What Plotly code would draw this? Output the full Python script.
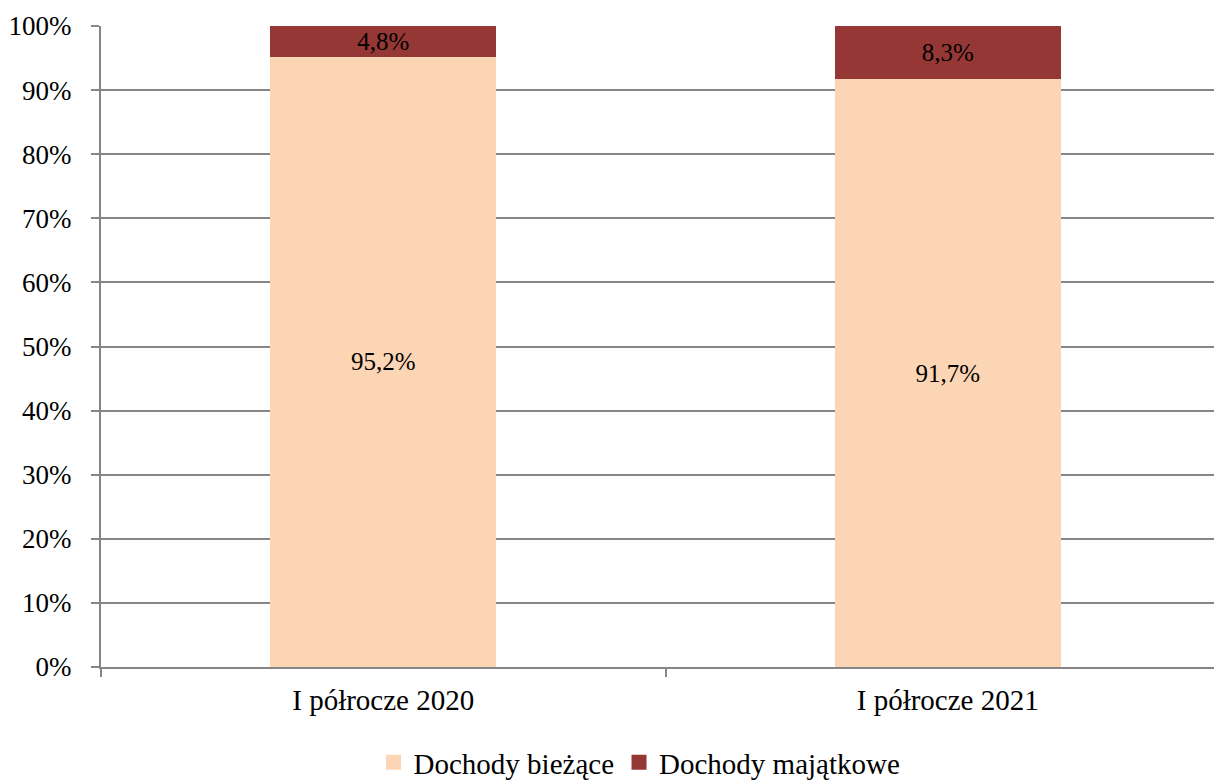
import plotly.graph_objects as go

categories = ["I półrocze 2020", "I półrocze 2021"]
biezace = [0.952, 0.917]
majatkowe = [0.048, 0.083]
series_names = ["Dochody bieżące", "Dochody majątkowe"]
colors = ["#FCD5B5", "#953735"]

FONT = "Liberation Serif"

fig = go.Figure()
for name, vals, col in zip(series_names, [biezace, majatkowe], colors):
    fig.add_trace(go.Bar(
        x=categories, y=vals, name=name, legendgroup=name, showlegend=False,
        marker=dict(color=col, line=dict(width=0)),
        texttemplate="%{y:.1%}", textposition="inside",
        insidetextanchor="middle",
        textfont=dict(family=FONT, size=25, color="black"),
        width=0.4,
    ))
# legend entries with square swatches
for name, col in zip(series_names, colors):
    fig.add_trace(go.Scatter(
        x=[None], y=[None], mode="markers", name=name, legendgroup=name,
        marker=dict(symbol="square", size=15, color=col),
        showlegend=True, hoverinfo="skip",
    ))

fig.update_layout(
    barmode="stack",
    width=1222, height=781,
    margin=dict(l=93, r=0, t=18, b=122, autoexpand=False),
    paper_bgcolor="white", plot_bgcolor="white",
    separators=", ",
    font=dict(family=FONT, size=27, color="black"),
    uniformtext=dict(minsize=25, mode="show"),
    showlegend=True,
    legend=dict(orientation="h", x=0.477, xanchor="center", y=-0.109, yanchor="top",
                font=dict(family=FONT, size=29, color="black"), itemwidth=30,
                traceorder="normal", itemsizing="trace"),
)
fig.update_xaxes(
    type="category", range=[-0.5, 1.5], automargin=False,
    showline=True, linecolor="#868686", linewidth=2,
    ticks="outside", tickson="boundaries", ticklen=8, tickcolor="#868686", tickwidth=2,
    showgrid=False, tickfont=dict(family=FONT, size=29, color="black"),
    ticklabelstandoff=6,
)
fig.update_yaxes(
    range=[0, 1], tickformat=".0%", dtick=0.1, automargin=False,
    showline=True, linecolor="#868686", linewidth=2,
    ticks="outside", ticklen=8, tickcolor="#868686", tickwidth=2,
    showgrid=True, gridcolor="#868686", gridwidth=2,
    zeroline=False, tickfont=dict(family=FONT, size=27, color="black"),
    ticklabelstandoff=14,
)

fig.write_html("out.html")
